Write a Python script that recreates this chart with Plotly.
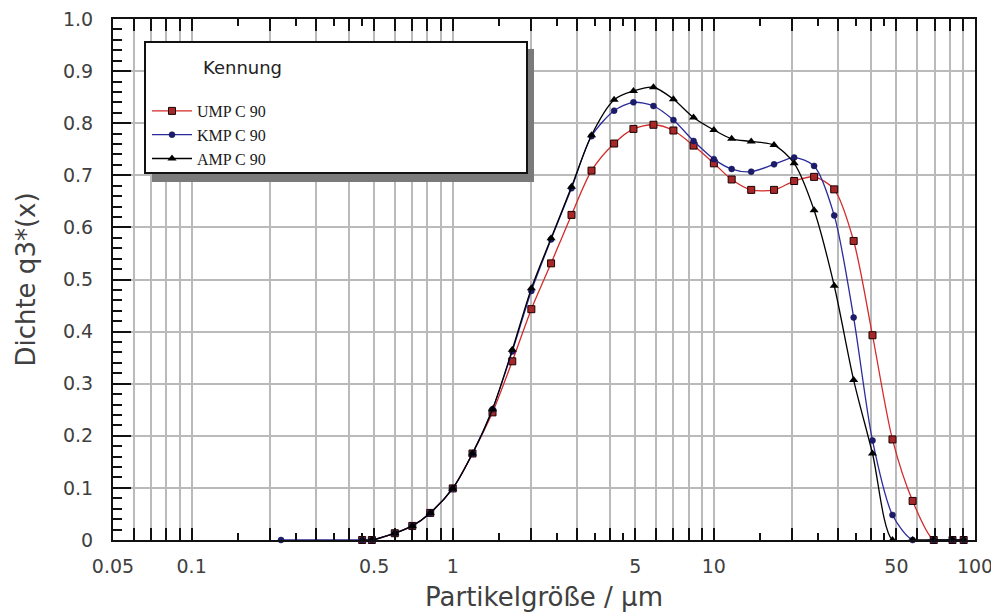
import math
import plotly.graph_objects as go

# ---------------- data ----------------
series_names = ["UMP C 90", "KMP C 90", "AMP C 90"]

x_ump = [0.45, 0.49, 0.6, 0.7, 0.82, 1.0, 1.19, 1.42, 1.69, 2.0, 2.38, 2.85, 3.4, 4.15, 4.92,
         5.87, 7.0, 8.36, 10.0, 11.7, 13.9, 17.0, 20.3, 24.2, 28.9, 34.3, 40.5, 48.3, 57.7,
         69.5, 82.0, 90.5]
y_ump = [0.0, 0.0, 0.013, 0.027, 0.052, 0.099, 0.166, 0.245, 0.343, 0.443, 0.531, 0.624, 0.709,
         0.761, 0.789, 0.797, 0.786, 0.757, 0.723, 0.692, 0.672, 0.672, 0.689, 0.697, 0.673,
         0.574, 0.393, 0.193, 0.075, 0.0, 0.0, 0.0]

x_kmp = [0.22, 0.45, 0.49, 0.6, 0.7, 0.82, 1.0, 1.19, 1.42, 1.69, 2.0, 2.38, 2.85, 3.4, 4.15,
         4.92, 5.87, 7.0, 8.36, 10.0, 11.7, 13.9, 17.0, 20.3, 24.2, 28.9, 34.3, 40.5, 48.3,
         57.7, 69.5, 82.0, 90.5]
y_kmp = [0.0, 0.0, 0.0, 0.013, 0.027, 0.052, 0.099, 0.166, 0.251, 0.362, 0.478, 0.577, 0.675,
         0.775, 0.824, 0.840, 0.833, 0.806, 0.766, 0.731, 0.712, 0.707, 0.721, 0.734, 0.718,
         0.623, 0.427, 0.191, 0.048, 0.0, 0.0, 0.0, 0.0]

x_amp = [0.45, 0.49, 0.6, 0.7, 0.82, 1.0, 1.19, 1.42, 1.69, 2.0, 2.38, 2.85, 3.4, 4.15, 4.92,
         5.87, 7.0, 8.36, 10.0, 11.7, 13.9, 17.0, 20.3, 24.2, 28.9, 34.3, 40.5, 48.3, 57.7,
         69.5, 82.0, 90.5]
y_amp = [0.0, 0.0, 0.013, 0.027, 0.052, 0.099, 0.166, 0.251, 0.365, 0.483, 0.579, 0.678, 0.777,
         0.845, 0.862, 0.869, 0.846, 0.811, 0.787, 0.770, 0.765, 0.758, 0.723, 0.633, 0.488,
         0.307, 0.166, 0.0, 0.0, 0.0, 0.0, 0.0]

x_tick_vals = [0.05, 0.06, 0.07, 0.08, 0.09,
               0.1, 0.2, 0.3, 0.4, 0.5, 0.6, 0.7, 0.8, 0.9,
               1, 2, 3, 4, 5, 6, 7, 8, 9,
               10, 20, 30, 40, 50, 60, 70, 80, 90, 100]
x_tick_labels = {0.05: "0.05", 0.1: "0.1", 0.5: "0.5", 1: "1", 5: "5",
                 10: "10", 50: "50", 100: "100"}
x_minor_vals = [m * d for d in (0.1, 1, 10) for m in (1.5, 2.5, 3.5, 4.5)]
y_tick_vals = [0, 0.1, 0.2, 0.3, 0.4, 0.5, 0.6, 0.7, 0.8, 0.9, 1.0]
y_tick_labels = ["0", "0.1", "0.2", "0.3", "0.4", "0.5", "0.6", "0.7", "0.8", "0.9", "1.0"]

legend_title = "Kennung"
x_title = "Partikelgröße / µm"
y_title = "Dichte q3*(x)"

# ---------------- styling ----------------
# the page body adds an 8px margin; compensate so the figure lands on the reference pixels
OFF = 8
W, H = 999 - OFF, 616 - OFF
PL, PR, PT, PB = 113, 975, 19, 540          # target plot area in page pixels
L, T = PL - OFF, PT - OFF
R = W - (PR - OFF)
B = H - (PB - OFF)
PW, PH = PR - PL, PB - PT


def px_x(p):
    return (p - PL) / PW


def px_y(p):
    return (PB - p) / PH


SANS = "DejaVu Sans"
SERIF = "Liberation Serif, Times New Roman, serif"
TXT = "#404040"
GRID = "#bababa"

fig = go.Figure()

styles = [
    dict(x=x_ump, y=y_ump, line=dict(color="#d42a2a", width=1.3),
         marker=dict(symbol="square", size=7, color="#a8282a", line=dict(color="#1a0000", width=1))),
    dict(x=x_kmp, y=y_kmp, line=dict(color="#2b2b9c", width=1.3),
         marker=dict(symbol="circle", size=6, color="#1c1c6e", line=dict(color="#10104a", width=0.5))),
    dict(x=x_amp, y=y_amp, line=dict(color="#000000", width=1.3),
         marker=dict(symbol="triangle-up", size=8, color="#000000", line=dict(width=0))),
]

for name, st in zip(series_names, styles):
    fig.add_trace(go.Scatter(
        x=st["x"], y=st["y"], name=name, mode="lines+markers",
        line=dict(color=st["line"]["color"], width=st["line"]["width"], shape="spline", smoothing=0.8),
        marker=st["marker"], cliponaxis=False,
    ))

# legend box with shadow
fig.add_shape(type="rect", xref="paper", yref="paper",
              x0=px_x(152), x1=px_x(534), y0=px_y(182), y1=px_y(49),
              fillcolor="#7a7a7a", line=dict(width=0), layer="above")
fig.add_shape(type="rect", xref="paper", yref="paper",
              x0=px_x(145), x1=px_x(527), y0=px_y(173), y1=px_y(42),
              fillcolor="white", line=dict(color="#111111", width=2), layer="above")
fig.add_annotation(text=legend_title, xref="paper", yref="paper",
                   x=px_x(201), y=px_y(67), xanchor="left", yanchor="middle",
                   showarrow=False, font=dict(family=SANS, size=18, color="#222222"))

fig.update_layout(
    width=W, height=H,
    margin=dict(l=L, r=R, t=T, b=B, autoexpand=False),
    paper_bgcolor="white", plot_bgcolor="white",
    showlegend=True,
    legend=dict(x=px_x(147), y=px_y(94), xanchor="left", yanchor="top",
                bgcolor="rgba(0,0,0,0)", borderwidth=0,
                font=dict(family=SERIF, size=16, color="#1a1a1a"),
                itemwidth=40, tracegroupgap=0),
    font=dict(family=SANS, color=TXT),
)

fig.update_xaxes(
    type="log", range=[math.log10(0.05), math.log10(100)],
    tickmode="array", tickvals=x_tick_vals,
    ticktext=[x_tick_labels.get(v, "") for v in x_tick_vals],
    ticks="inside", ticklen=12, tickwidth=1.5, tickcolor="#111111",
    ticklabelstandoff=8, ticklabeloverflow="allow",
    tickfont=dict(family=SANS, size=19, color=TXT),
    showgrid=True, gridcolor=GRID, gridwidth=1.5,
    minor=dict(tickmode="array", tickvals=x_minor_vals, ticks="inside", ticklen=7,
               tickwidth=1.5, tickcolor="#111111", showgrid=False),
    showline=True, linecolor="#111111", linewidth=2, mirror="ticks",
    zeroline=False, automargin=False,
    title=dict(text=x_title, font=dict(family=SANS, size=26, color=TXT), standoff=12),
)

fig.update_yaxes(
    range=[0, 1.0], tickmode="array", tickvals=y_tick_vals, ticktext=y_tick_labels,
    ticks="inside", ticklen=18, tickwidth=1.5, tickcolor="#111111",
    ticklabelstandoff=14, ticklabeloverflow="allow",
    tickfont=dict(family=SANS, size=19, color=TXT),
    showgrid=True, gridcolor=GRID, gridwidth=1.5,
    minor=dict(dtick=0.02, ticks="inside", ticklen=9, tickwidth=1.5,
               tickcolor="#111111", showgrid=False),
    showline=True, linecolor="#111111", linewidth=2, mirror=True,
    zeroline=False, automargin=False,
    title=dict(text=y_title, font=dict(family=SANS, size=26, color=TXT), standoff=20),
)

fig.write_html("out.html")
